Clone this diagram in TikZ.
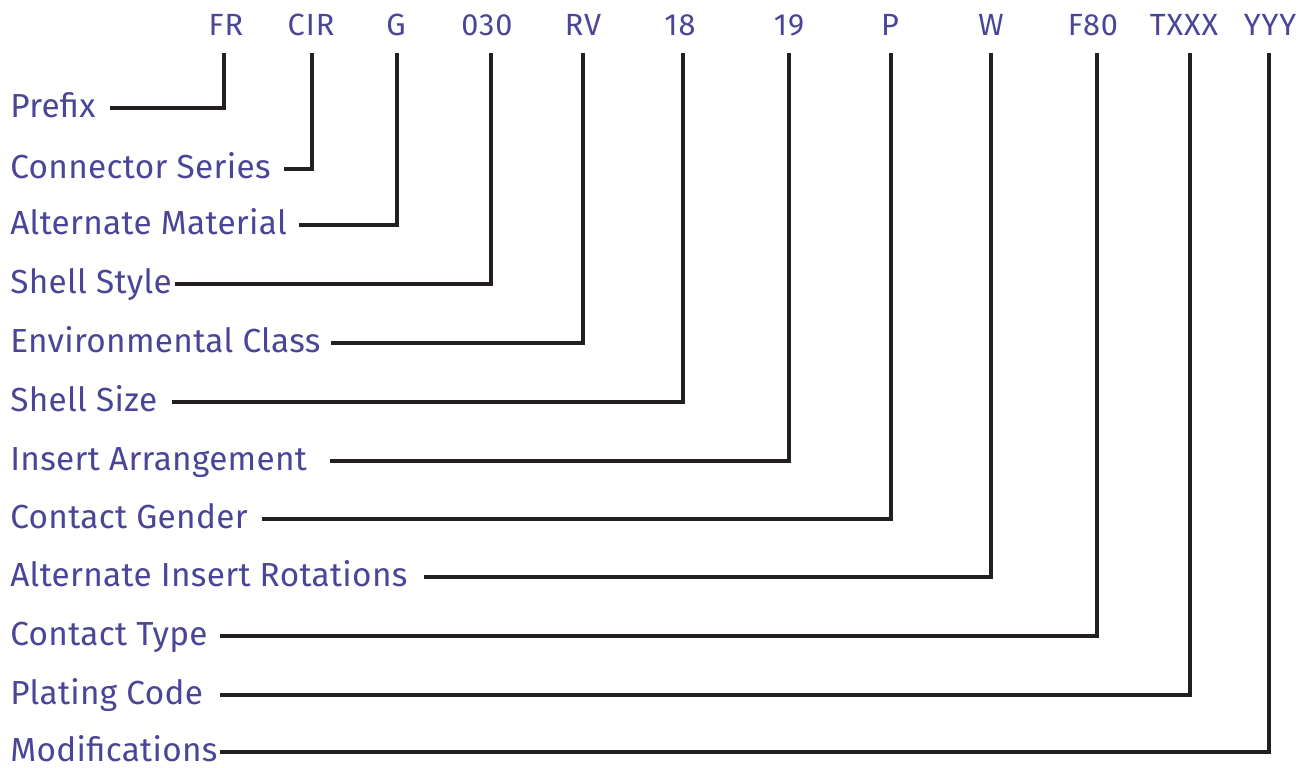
\documentclass[tikz,border=0pt]{standalone}
\usepackage{fontspec}
\setmainfont{Fira Sans}
\newfontfamily\lblfont[LetterSpace=1.0]{Fira Sans}
\newfontfamily\codefont[LetterSpace=3]{Fira Sans}
\definecolor{txtc}{HTML}{4A4597}
\definecolor{linec}{HTML}{231F20}
\begin{document}
\begin{tikzpicture}[x=0.75pt,y=-0.75pt,
  lbl/.style={anchor=base west,inner sep=0pt,text=txtc,font=\lblfont\fontsize{25}{30}\selectfont},
  code/.style={anchor=base,inner sep=0pt,text=txtc,font=\codefont\fontsize{23}{28}\selectfont},
  conn/.style={draw=linec,line width=2.4pt}]
\useasboundingbox (0,0) rectangle (1304,768);
% codes
\node[code] (FR) at (226,35) {FR};
\node[code] (CIR) at (311,35) {CIR};
\node[code] (G) at (396,35) {G};
\node[code] (C030) at (487,35) {030};
\node[code] (RV) at (583,35) {RV};
\node[code] (C18) at (680,35) {18};
\node[code] (C19) at (789,35) {19};
\node[code] (P) at (890,35) {P};
\node[code] (W) at (991,35) {W};
\node[code] (F80) at (1093,35) {F80};
\node[code] (TXXX) at (1184,35) {TXXX};
\node[code] (YYY) at (1270,35) {YYY};
% labels
\node[lbl] (L1) at (10,117) {Prefix};
\node[lbl] (L2) at (10,178) {Connector Series};
\node[lbl] (L3) at (10,234) {Alternate Material};
\node[lbl] (L4) at (10,293) {Shell Style};
\node[lbl] (L5) at (10,352) {Environmental Class};
\node[lbl] (L6) at (10,411) {Shell Size};
\node[lbl] (L7) at (10,470) {Insert Arrangement};
\node[lbl] (L8) at (10,528) {Contact Gender};
\node[lbl] (L9) at (10,586) {Alternate Insert Rotations};
\node[lbl] (L10) at (10,645) {Contact Type};
\node[lbl] (L11) at (10,704) {Plating Code};
\node[lbl] (L12) at (10,761) {Modifications};
% line tops
\coordinate (t1) at (224,53);
\coordinate (t2) at (312,53);
\coordinate (t3) at (397,53);
\coordinate (t4) at (491,53);
\coordinate (t5) at (583,53);
\coordinate (t6) at (683,53);
\coordinate (t7) at (789,53);
\coordinate (t8) at (891,53);
\coordinate (t9) at (991,53);
\coordinate (t10) at (1097,53);
\coordinate (t11) at (1190,53);
\coordinate (t12) at (1269,53);
% line starts
\coordinate (s1) at (110,108);
\coordinate (s2) at (284,169);
\coordinate (s3) at (299,225);
\coordinate (s4) at (175,284);
\coordinate (s5) at (331,343);
\coordinate (s6) at (172,402);
\coordinate (s7) at (330,461);
\coordinate (s8) at (262,519);
\coordinate (s9) at (424,577);
\coordinate (s10) at (220,636);
\coordinate (s11) at (220,695);
\coordinate (s12) at (220,752);
\foreach \i in {1,...,12}{\draw[conn] (t\i) |- (s\i);}
\end{tikzpicture}
\end{document}
